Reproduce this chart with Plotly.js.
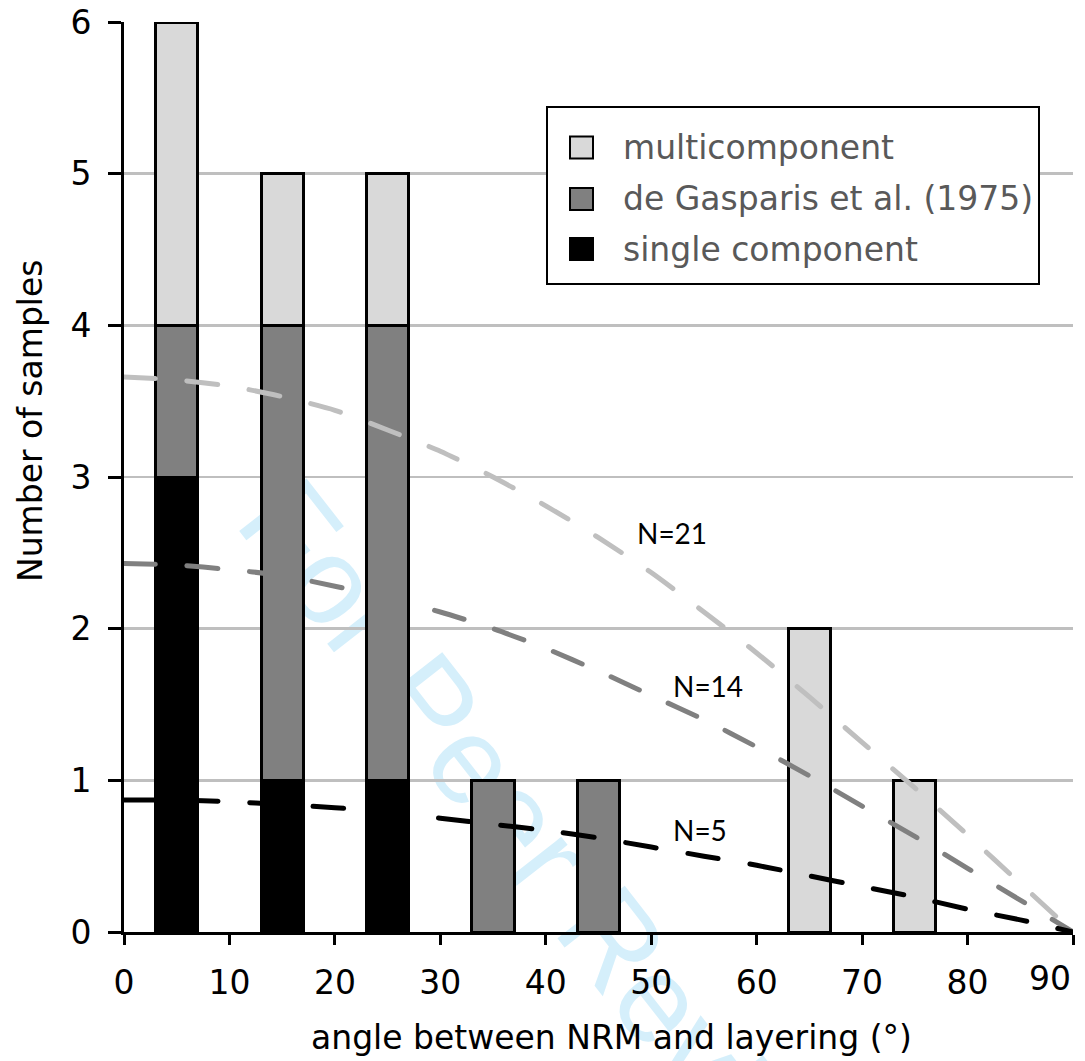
<!DOCTYPE html>
<html>
<head>
<meta charset="utf-8">
<script src="https://cdn.plot.ly/plotly-3.0.1.min.js"></script>
<style>
  html, body { margin: 0; padding: 0; background: #ffffff; }
  #wrap { position: relative; width: 1085px; height: 1061px; overflow: hidden; background: #ffffff; }
  #watermark { position: absolute; left: 233px; top: 418px; font-family: "Liberation Sans", Arial, sans-serif;
    font-size: 124px; line-height: 1; color: #d5effb; white-space: nowrap;
    transform-origin: 0 105px; transform: rotate(52deg); z-index: 0; }
  #plot { position: absolute; left: 0; top: 0; width: 1085px; height: 1061px; z-index: 1; }
  #plot .scatterlayer path.js-line { stroke-linecap: round; }
</style>
</head>
<body>
<div id="wrap">
  <div id="watermark">For Peer Review</div>
  <div id="plot"></div>
</div>
<script>
// ---- data ----
const angleBins = [5, 15, 25, 35, 45, 55, 65, 75, 85];
const singleComponent = [3, 1, 1, 0, 0, 0, 0, 0, 0];
const deGasparis = [1, 3, 3, 1, 1, 0, 0, 0, 0];
const multicomponent = [2, 1, 1, 0, 0, 0, 2, 1, 0];

const seriesNames = ['single component', 'de Gasparis et al. (1975)', 'multicomponent'];
const seriesColors = ['#000000', '#808080', '#d9d9d9'];

const curveAngles = [0, 5, 10, 15, 20, 25, 30, 35, 40, 45, 50, 55, 60, 65, 70, 75, 80, 85, 90];
const curveN21 = [3.66, 3.64, 3.60, 3.53, 3.44, 3.31, 3.17, 3.00, 2.81, 2.60, 2.37, 2.11, 1.84, 1.55, 1.25, 0.95, 0.64, 0.32, 0];
const curveN14 = [2.43, 2.42, 2.39, 2.35, 2.28, 2.20, 2.11, 2.00, 1.87, 1.72, 1.56, 1.40, 1.22, 1.03, 0.83, 0.63, 0.42, 0.21, 0];
const curveN5  = [0.87, 0.87, 0.86, 0.84, 0.82, 0.79, 0.75, 0.71, 0.67, 0.62, 0.56, 0.50, 0.44, 0.37, 0.30, 0.23, 0.15, 0.08, 0];
const curveLabels = ['N=21', 'N=14', 'N=5'];
const curveColors = ['#bfbfbf', '#808080', '#000000'];
const curveLabelPos = [[48.5, 2.63], [51.9, 1.62], [51.9, 0.675]];

const xTickVals = [0, 10, 20, 30, 40, 50, 60, 70, 80, 90];
const yTickVals = [0, 1, 2, 3, 4, 5, 6];

// ---- layout helpers (pixel -> paper) ----
const M = { l: 124, r: 12, t: 22, b: 129 };
const PW = 1085 - M.l - M.r, PH = 1061 - M.t - M.b;
const px2x = p => (p - M.l) / PW;
const py2y = p => (1061 - M.b - p) / PH;

const FONT = '"DejaVu Sans", Verdana, sans-serif';
const FS = 33;

const barSeries = [singleComponent, deGasparis, multicomponent];
const traces = barSeries.map((vals, i) => ({
  type: 'bar',
  name: seriesNames[i],
  x: angleBins,
  y: vals.map(v => (v === 0 ? null : v)),
  width: 4,
  marker: { color: seriesColors[i], line: { color: '#000000', width: 3 } },
  showlegend: false,
  hoverinfo: 'skip'
}));

[curveN21, curveN14, curveN5].forEach((vals, i) => {
  traces.push({
    type: 'scatter',
    mode: 'lines',
    name: curveLabels[i],
    x: curveAngles,
    y: vals,
    line: { color: curveColors[i], width: 5, dash: '31px,32px', shape: 'spline', smoothing: 0.6 },
    showlegend: false,
    hoverinfo: 'skip'
  });
});

const annotations = [];
curveLabels.forEach((t, i) => {
  annotations.push({
    x: curveLabelPos[i][0], y: curveLabelPos[i][1], xref: 'x', yref: 'y',
    text: t, showarrow: false, xanchor: 'left', yanchor: 'middle',
    font: { family: 'Lato, "Open Sans", sans-serif', size: 28, color: '#000000' }
  });
});
// last x tick label, kept inside the page as in the reference
annotations.push({
  x: px2x(1050), y: py2y(978), xref: 'paper', yref: 'paper', text: String(xTickVals[xTickVals.length - 1]),
  showarrow: false, xanchor: 'center', yanchor: 'middle',
  font: { family: FONT, size: FS, color: '#000000' }
});
// axis titles
annotations.push({
  x: px2x(30), y: py2y(421), xref: 'paper', yref: 'paper', text: 'Number of samples',
  showarrow: false, textangle: -90, xanchor: 'center', yanchor: 'middle',
  font: { family: FONT, size: FS, color: '#000000' }
});
annotations.push({
  x: px2x(611), y: py2y(1037), xref: 'paper', yref: 'paper', text: 'angle between NRM and layering (°)',
  showarrow: false, xanchor: 'center', yanchor: 'middle',
  font: { family: FONT, size: FS, color: '#000000' }
});

// legend (drawn manually: box, swatches, labels)
const shapes = [{
  type: 'rect', xref: 'paper', yref: 'paper',
  x0: px2x(547), x1: px2x(1039), y0: py2y(284), y1: py2y(107),
  line: { color: '#000000', width: 2 }, fillcolor: '#ffffff', layer: 'above'
}];
const legendRows = [147.5, 199, 249];
const legendOrder = [2, 1, 0];
legendOrder.forEach((si, r) => {
  const cy = legendRows[r];
  shapes.push({
    type: 'rect', xref: 'paper', yref: 'paper',
    x0: px2x(570), x1: px2x(593), y0: py2y(cy + 11), y1: py2y(cy - 11),
    line: { color: '#000000', width: 2 }, fillcolor: seriesColors[si], layer: 'above'
  });
  annotations.push({
    x: px2x(621), y: py2y(cy), xref: 'paper', yref: 'paper', text: seriesNames[si],
    showarrow: false, xanchor: 'left', yanchor: 'middle',
    font: { family: FONT, size: FS, color: '#595959' }
  });
});

const layout = {
  width: 1085, height: 1061,
  margin: M,
  paper_bgcolor: 'rgba(0,0,0,0)',
  plot_bgcolor: 'rgba(0,0,0,0)',
  barmode: 'stack',
  showlegend: false,
  font: { family: FONT, size: FS, color: '#000000' },
  xaxis: {
    range: [0, 90], tickvals: xTickVals,
    ticktext: xTickVals.map((v, i) => (i === xTickVals.length - 1 ? '' : String(v))),
    ticks: 'outside', ticklen: 10, tickwidth: 3, tickcolor: '#000000',
    showline: true, linewidth: 3, linecolor: '#000000',
    showgrid: false, zeroline: false, ticklabelstandoff: 9,
    tickfont: { family: FONT, size: FS, color: '#000000' }
  },
  yaxis: {
    range: [0, 6], tickvals: yTickVals, ticktext: yTickVals.map(String),
    ticks: 'outside', ticklen: 13, tickwidth: 3, tickcolor: '#000000',
    showline: true, linewidth: 3, linecolor: '#000000',
    showgrid: true, gridcolor: '#bfbfbf', gridwidth: 2.5, zeroline: false,
    ticklabelstandoff: 10,
    tickfont: { family: FONT, size: FS, color: '#000000' }
  },
  annotations: annotations,
  shapes: shapes
};

Plotly.newPlot('plot', traces, layout, { displayModeBar: false, staticPlot: true });
</script>
</body>
</html>
